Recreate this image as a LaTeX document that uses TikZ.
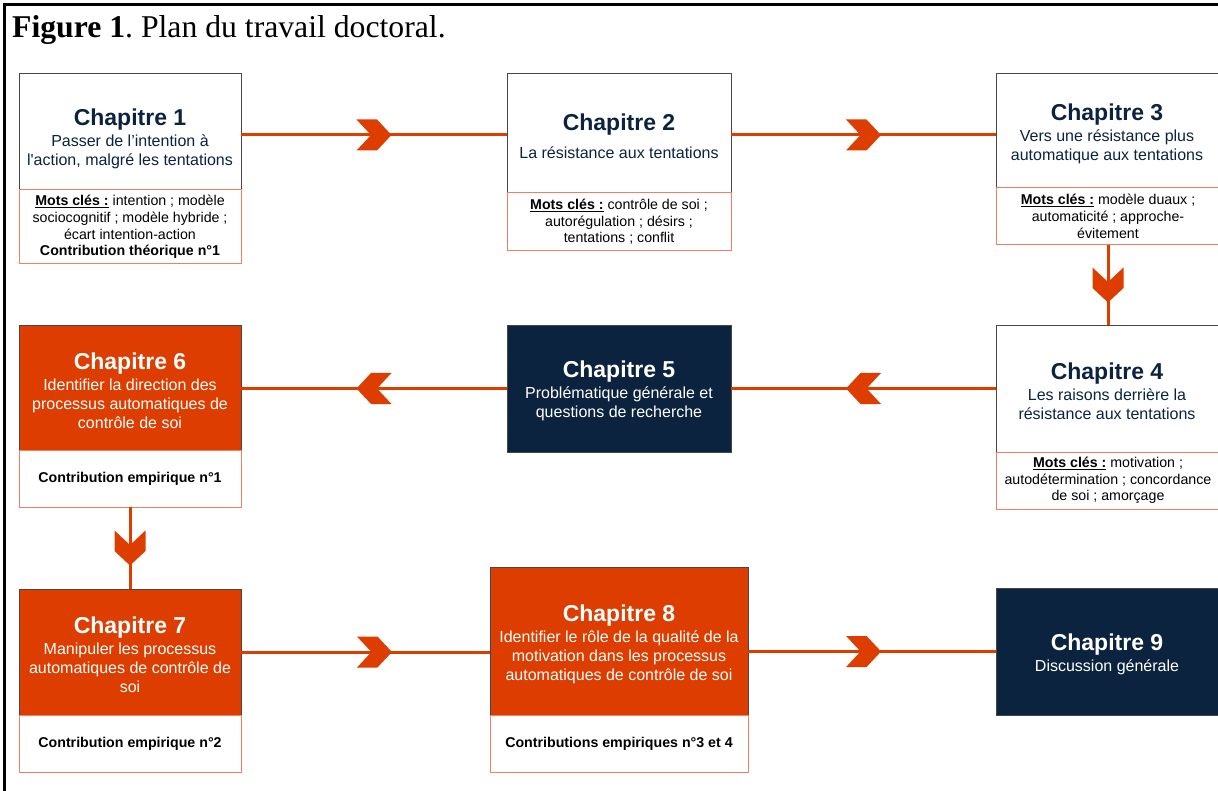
\documentclass[tikz,border=0pt]{standalone}
\usepackage{fontspec}
\setmainfont{Liberation Serif}
\newfontfamily\boxfont{Liberation Sans}
\usetikzlibrary{positioning, calc, decorations.markings}

\definecolor{planorange}{RGB}{221,62,0}
\definecolor{plannavy}{RGB}{12,35,64}
\definecolor{plansalmon}{RGB}{238,130,96}
\definecolor{plangray}{RGB}{70,70,70}

\newcommand{\chtitle}[1]{{\fontsize{23}{26}\selectfont\bfseries #1}}
\newcommand{\motscles}{\underline{\textbf{Mots clés :}}}

\begin{document}
\frenchspacing
\begin{tikzpicture}[
    x=1pt, y=-1pt,
    chapbox/.style={draw=plangray, line width=0.8pt, fill=white, inner sep=0pt, outer sep=0pt},
    orangebox/.style={chapbox, fill=planorange},
    navybox/.style={chapbox, fill=plannavy},
    chaptext/.style={align=center, text=plannavy, font=\boxfont\fontsize{16}{19}\selectfont},
    lighttext/.style={chaptext, text=white},
    kwbox/.style={draw=plansalmon, line width=1pt, fill=white, inner sep=0pt, outer sep=0pt, align=center, font=\boxfont\fontsize{14.2}{16.7}\selectfont},
    link/.style={draw=planorange, line width=3pt, postaction={decorate},
        decoration={markings, mark=at position #1 with {\fill[planorange] (-17.5,15.5) -- (3,15.5) -- (17.5,0) -- (3,-15.5) -- (-17.5,-15.5) -- (-3,0) -- cycle;}}},
    link/.default=0.5,
    ]

    \useasboundingbox (0,0) rectangle (1218,791);
    \fill[white] (0,0) rectangle (1218,791);
    \draw[line width=3pt] (1230,4.3) -- (4.3,4.3) -- (4.3,800);

    \node (fig) [anchor=base west, inner sep=0pt, font=\fontsize{31.7}{36}\selectfont] at (12,38) {\textbf{Figure 1}. Plan du travail doctoral.};

    % First row
    \node (c1) [chapbox, minimum width=222pt, minimum height=117pt] at (130,131.5) {};
    \node (t1) [chaptext] at ([yshift=-7pt]c1.center) {\chtitle{Chapitre 1}\\[2pt] Passer de l’intention à\\ l'action, malgré les tentations};
    \node (k1) [kwbox, minimum width=222pt, minimum height=74pt, below=0pt of c1] {\motscles{} intention ; modèle\\ sociocognitif ; modèle hybride ;\\ écart intention-action\\ \textbf{Contribution théorique n°1}};

    \node (c2) [chapbox, minimum width=224pt, minimum height=120pt] at (619,133) {};
    \node (t2) [chaptext] at ([yshift=-3pt]c2.center) {\chtitle{Chapitre 2}\\[9pt] La résistance aux tentations};
    \node (k2) [kwbox, minimum width=224pt, minimum height=58pt, below=0pt of c2] {\motscles{} contrôle de soi ;\\ autorégulation ; désirs ;\\ tentations ; conflit};

    \node (c3) [chapbox, minimum width=224pt, minimum height=115pt] at (1108,130.5) {};
    \node (t3) [chaptext] at ([xshift=-1pt, yshift=-3pt]c3.center) {\chtitle{Chapitre 3}\\[2pt] Vers une résistance plus\\ automatique aux tentations};
    \node (k3) [kwbox, minimum width=224pt, minimum height=57pt, below=0pt of c3] {\motscles{} modèle duaux ;\\ automaticité ; approche-\\ évitement};

    % Second row
    \node (c4) [chapbox, minimum width=224pt, minimum height=127pt] at (1108,388.5) {};
    \node (t4) [chaptext] at ([xshift=-1pt, yshift=-3pt]c4.center) {\chtitle{Chapitre 4}\\[2pt] Les raisons derrière la\\ résistance aux tentations};
    \node (k4) [kwbox, minimum width=224pt, minimum height=57pt, below=0pt of c4] {\motscles{} motivation ;\\ autodétermination ; concordance\\ de soi ; amorçage};

    \node (c5) [navybox, minimum width=224pt, minimum height=127pt] at (619,388.5) {};
    \node (t5) [lighttext] at ([yshift=-2pt]c5.center) {\chtitle{Chapitre 5}\\[2pt] Problématique générale et\\ questions de recherche};

    \node (c6) [orangebox, minimum width=222pt, minimum height=125pt] at (130,387.5) {};
    \node (t6) [lighttext] at ([yshift=-3pt]c6.center) {\chtitle{Chapitre 6}\\[2pt] Identifier la direction des\\ processus automatiques de\\ contrôle de soi};
    \node (k6) [kwbox, minimum width=222pt, minimum height=57pt, below=0pt of c6] {\textbf{Contribution empirique n°1}};

    % Third row
    \node (c7) [orangebox, minimum width=222pt, minimum height=126pt] at (130,652) {};
    \node (t7) [lighttext] at ([yshift=-3pt]c7.center) {\chtitle{Chapitre 7}\\[2pt] Manipuler les processus\\ automatiques de contrôle de\\ soi};
    \node (k7) [kwbox, minimum width=222pt, minimum height=57pt, below=0pt of c7] {\textbf{Contribution empirique n°2}};

    \node (c8) [orangebox, minimum width=258pt, minimum height=148pt] at (619,641) {};
    \node (t8) [lighttext] at ([yshift=-3pt]c8.center) {\chtitle{Chapitre 8}\\[2pt] Identifier le rôle de la qualité de la\\ motivation dans les processus\\ automatiques de contrôle de soi};
    \node (k8) [kwbox, minimum width=258pt, minimum height=57pt, below=0pt of c8] {\textbf{Contributions empiriques n°3 et 4}};

    \node (c9) [navybox, minimum width=224pt, minimum height=127pt] at (1108,651.5) {};
    \node (t9) [lighttext] at ([xshift=-1pt, yshift=-3pt]c9.center) {\chtitle{Chapitre 9}\\[2pt] Discussion générale};

    % Links
    \draw[link] ($(c1.east |- c2.west)+(0,2)$) -- ($(c2.west)+(0,2)$);
    \draw[link] ($(c2.east)+(0,2)$) -- ($(c2.east -| c3.west)+(0,2)$);
    \draw[link] (k3.south) -- (k3.south |- c4.north);
    \draw[link] (c4.west) -- (c4.west -| c5.east);
    \draw[link] (c5.west) -- (c5.west -| c6.east);
    \draw[link] (k6.south) -- (k6.south |- c7.north);
    \draw[link=0.536] (c7.east) -- (c7.east -| c8.west);
    \draw[link=0.466] (c8.east |- c9.west) -- (c9.west);
\end{tikzpicture}
\end{document}
